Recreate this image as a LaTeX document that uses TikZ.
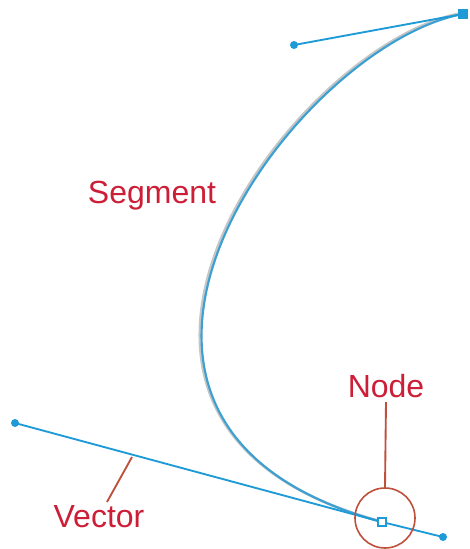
\documentclass[tikz,border=0pt]{standalone}
\usepackage{fontspec}
\setmainfont{Liberation Sans}
\definecolor{handleblue}{RGB}{30,155,215}
\definecolor{curveblue}{RGB}{60,160,210}
\definecolor{labelred}{RGB}{205,30,55}
\definecolor{leader}{RGB}{190,80,60}
\begin{document}
\begin{tikzpicture}[x=0.75pt,y=-0.75pt,
  handle/.style={draw=handleblue,line width=1.4pt},
  curvestyle/.style={draw=curveblue,line width=1.6pt},
  tipdot/.style={circle,fill=handleblue,inner sep=0pt,minimum size=6pt},
  anchorpt/.style={rectangle,draw=handleblue,line width=1pt,fill=white,inner sep=0pt,minimum size=6pt},
  anchorfill/.style={rectangle,fill=handleblue,inner sep=0pt,minimum size=7pt},
  lbl/.style={text=labelred,font=\fontsize{24}{27}\selectfont,inner sep=0pt},
  lead/.style={draw=leader,line width=1.4pt}]
\useasboundingbox (0,0) rectangle (470,549);
% points
\coordinate (top) at (463,14);
\coordinate (topc) at (294,45);
\coordinate (bot) at (382,522);
\coordinate (botc) at (15,423);
\coordinate (botr) at (443,537);
% curve with shadow
\draw[draw=gray!45,line width=2pt] ([xshift=-1.3pt,yshift=0.6pt]top) .. controls ([xshift=-1.3pt,yshift=0.6pt]topc) and ([xshift=-1.3pt,yshift=0.6pt]botc) .. ([xshift=-1.3pt,yshift=0.6pt]bot);
\draw[curvestyle] (top) .. controls (topc) and (botc) .. (bot);
% handles
\draw[handle] (top) -- (topc);
\draw[handle] (botc) -- (bot) -- (botr);
\node[tipdot] (dtopc) at (topc) {};
\node[tipdot] (dbotc) at (botc) {};
\node[tipdot] (dbotr) at (botr) {};
\node[anchorfill] (ntop) at (top) {};
\node[anchorpt] (nbot) at (bot) {};
% labels
\node[lbl] (seg) at (152,196) {Segment};
\node[lbl] (nodel) at (386,386) {Node};
\node[lbl] (vec) at (99,517) {Vector};
% node circle and leaders
\node[circle,draw=leader,line width=1.2pt,minimum size=45pt,inner sep=0pt] (ring) at (385,518) {};
\draw[lead] (ring.north) -- (nodel.south |- 0,402);
\coordinate (vecpt) at (132,457);
\draw[lead] (vecpt) -- (107,502) coordinate (vecend);
\end{tikzpicture}
\end{document}
